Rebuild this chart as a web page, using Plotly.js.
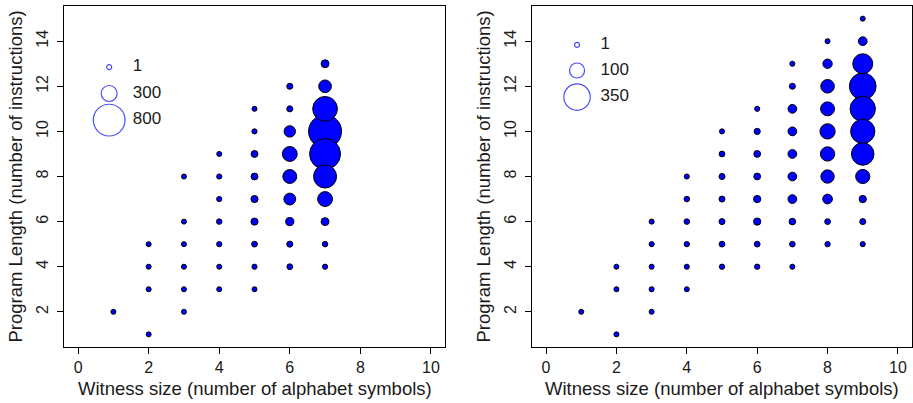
<!DOCTYPE html>
<html>
<head>
<meta charset="utf-8">
<script src="https://cdn.plot.ly/plotly-3.0.1.min.js"></script>
<style>html,body{margin:0;padding:0;background:#fff;}#chart{width:913px;height:403px;}</style>
</head>
<body>
<div id="chart"></div>
<script>
// ---- Left panel data: witness size, program length, count ----
const leftX = [1, 2,2,2,2, 3,3,3,3,3,3, 4,4,4,4,4,4,4, 5,5,5,5,5,5,5,5,5, 6,6,6,6,6,6,6,6,6, 7,7,7,7,7,7,7,7,7,7];
const leftY = [2, 1,3,4,5, 2,3,4,5,6,8, 3,4,5,6,7,8,9, 3,4,5,6,7,8,9,10,11, 4,5,6,7,8,9,10,11,12, 4,5,6,7,8,9,10,11,12,13];
const leftN = [40, 40,45,45,45, 40,45,45,45,45,45, 50,55,60,65,60,60,55, 50,60,70,95,95,90,90,60,55, 70,75,115,195,245,270,185,75,75, 60,65,110,270,505,770,845,560,215,110];
const leftLegendVals = [1, 300, 800];
const leftLegendY = [12.85, 11.68, 10.5];

// ---- Right panel data ----
const rightX = [1, 2,2,2, 3,3,3,3,3, 4,4,4,4,4,4, 5,5,5,5,5,5,5, 6,6,6,6,6,6,6,6, 7,7,7,7,7,7,7,7,7,7, 8,8,8,8,8,8,8,8,8,8, 9,9,9,9,9,9,9,9,9,9,9];
const rightY = [2, 1,3,4, 2,3,4,5,6, 3,4,5,6,7,8, 4,5,6,7,8,9,10, 4,5,6,7,8,9,10,11, 4,5,6,7,8,9,10,11,12,13, 5,6,7,8,9,10,11,12,13,14, 5,6,7,8,9,10,11,12,13,14,15];
const rightN = [8, 8,8,8, 8,9,9,9,9, 8,9,10,11,11,9, 10,12,13,13,13,12,9, 10,12,20,20,17,17,14,9, 9,11,16,30,30,30,30,30,13,9, 10,12,38,77,90,104,85,80,35,8, 9,13,20,88,246,290,320,360,189,30,8];
const rightLegendVals = [1, 100, 350];
const rightLegendY = [13.84, 12.7, 11.52];

const xTicks = [0, 2, 4, 6, 8, 10];
const yTicks = [2, 4, 6, 8, 10, 12, 14];
const xTitle = 'Witness size (number of alphabet symbols)';
const yTitle = 'Program Length (number of instructions)';

// size mapping (diameter in px) per panel
function sizer(k, p, minD) { return n => Math.max(minD, k * Math.pow(n, p)); }
const leftSize = sizer(0.295, 0.7, 5);
const rightSize = sizer(1.89, 0.45, 5);

function sortedIdx(arr) { return arr.map((v, i) => i).sort((a, b) => arr[b] - arr[a]); }

function bubbleTrace(xs, ys, ns, sz, xa, ya) {
  const idx = sortedIdx(ns);
  return {
    type: 'scatter', mode: 'markers', xaxis: xa, yaxis: ya,
    x: idx.map(i => xs[i]), y: idx.map(i => ys[i]),
    text: idx.map(i => ns[i]),
    marker: { size: idx.map(i => sz(ns[i])), color: '#0000FF', line: { color: '#000000', width: 1 }, opacity: 1 },
    showlegend: false, hoverinfo: 'x+y+text'
  };
}
function legendTraces(vals, ly, sz, xa, ya) {
  return [
    { type: 'scatter', mode: 'markers', xaxis: xa, yaxis: ya,
      x: vals.map(() => 0.88), y: ly,
      marker: { size: vals.map(sz), color: 'rgba(0,0,0,0)', line: { color: '#0000FF', width: 1.2 } },
      showlegend: false, hoverinfo: 'skip' },
    { type: 'scatter', mode: 'text', xaxis: xa, yaxis: ya,
      x: vals.map(() => 1.55), y: ly, text: vals.map(String), textposition: 'middle right',
      textfont: { family: 'Liberation Sans, Arial, sans-serif', size: 17, color: '#1a1a1a' },
      showlegend: false, hoverinfo: 'skip' }
  ];
}

const data = [
  bubbleTrace(leftX, leftY, leftN, leftSize, 'x', 'y'),
  ...legendTraces(leftLegendVals, leftLegendY, leftSize, 'x', 'y'),
  bubbleTrace(rightX, rightY, rightN, rightSize, 'x2', 'y2'),
  ...legendTraces(rightLegendVals, rightLegendY, rightSize, 'x2', 'y2')
];

const font = { family: 'Liberation Sans, Arial, sans-serif', size: 16, color: '#1a1a1a' };
function xax(domain, anchor) {
  return { domain: domain, anchor: anchor, range: [-0.4, 10.4], tickvals: xTicks, ticktext: xTicks.map(String),
    showgrid: false, zeroline: false, showline: true, mirror: true, linecolor: '#000', linewidth: 1,
    ticks: 'outside', ticklen: 6, tickcolor: '#000', tickfont: font, ticklabelstandoff: 0 };
}
function yax(anchor) {
  return { domain: [0, 1], anchor: anchor, range: [0.44, 15.56], tickvals: yTicks, ticktext: yTicks.map(String),
    showgrid: false, zeroline: false, showline: true, mirror: true, linecolor: '#000', linewidth: 1,
    ticks: 'outside', ticklen: 6, tickcolor: '#000', tickfont: font, tickangle: -90, ticklabelstandoff: 3 };
}

const titleFont = { family: 'Liberation Sans, Arial, sans-serif', size: 18.5, color: '#1a1a1a' };
const leftDom = [0, 381 / 848];
const rightDom = [468 / 848, 1];
const layout = {
  width: 913, height: 403,
  margin: { l: 64, r: 1, t: 6, b: 56 },
  paper_bgcolor: '#fff', plot_bgcolor: '#fff',
  showlegend: false,
  xaxis: xax(leftDom, 'y'),
  yaxis: yax('x'),
  xaxis2: xax(rightDom, 'y2'),
  yaxis2: yax('x2'),
  annotations: [
    { text: xTitle, xref: 'paper', yref: 'paper', x: (leftDom[0] + leftDom[1]) / 2, y: -0.123, xanchor: 'center', yanchor: 'middle', showarrow: false, font: titleFont },
    { text: xTitle, xref: 'paper', yref: 'paper', x: (rightDom[0] + rightDom[1]) / 2, y: -0.123, xanchor: 'center', yanchor: 'middle', showarrow: false, font: titleFont },
    { text: yTitle, xref: 'paper', yref: 'paper', x: (15 - 64) / 848, y: 0.5, xanchor: 'center', yanchor: 'middle', textangle: -90, showarrow: false, font: titleFont },
    { text: yTitle, xref: 'paper', yref: 'paper', x: (483 - 64) / 848, y: 0.5, xanchor: 'center', yanchor: 'middle', textangle: -90, showarrow: false, font: titleFont }
  ]
};

Plotly.newPlot('chart', data, layout, { displayModeBar: false, staticPlot: true });
</script>
</body>
</html>
